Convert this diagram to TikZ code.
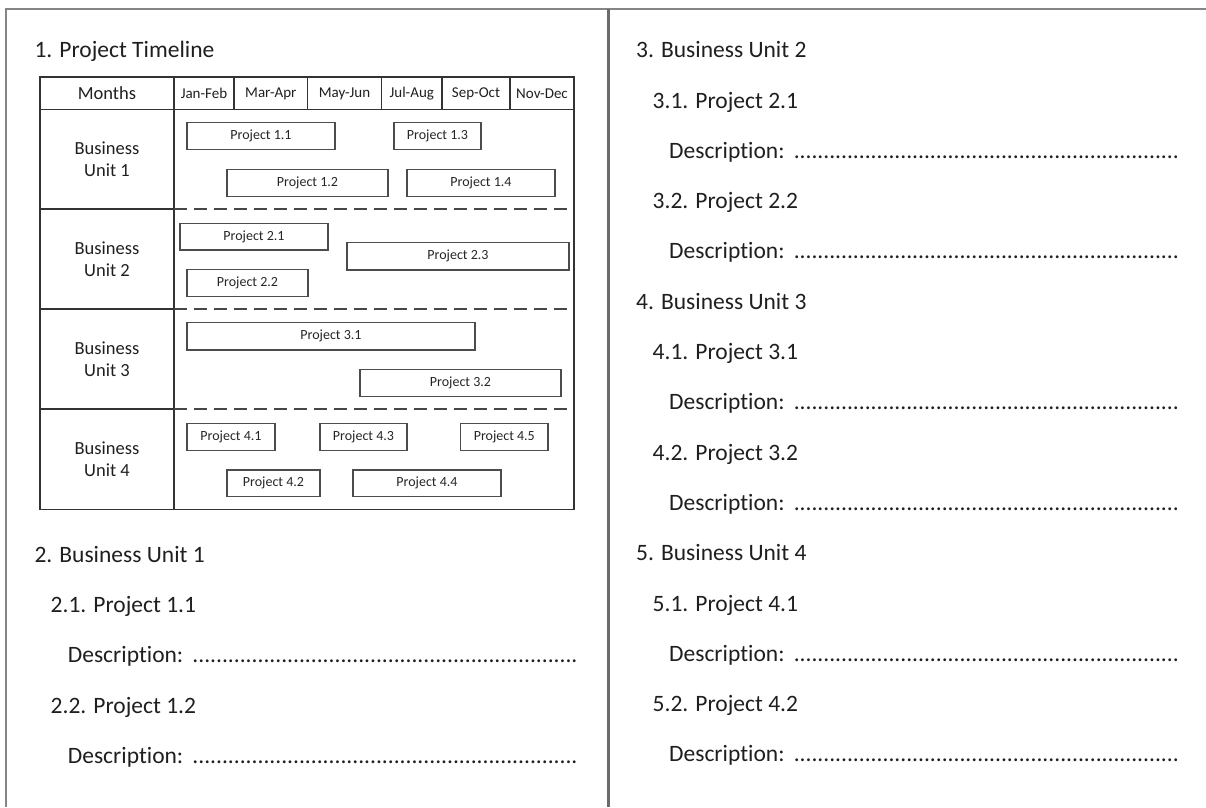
\documentclass[tikz,border=0pt]{standalone}
\usepackage{fontspec}
\setmainfont{Carlito}[Ligatures=NoCommon]
\begin{document}
\begin{tikzpicture}[x=1pt,y=-1pt,
  frame/.style={draw=black!48,line width=2pt},
  midframe/.style={draw=black!58,line width=2.2pt},
  grid/.style={draw=black!80,line width=1.4pt},
  rowsep/.style={draw=black!72,line width=2pt,dash pattern=on 13pt off 7pt},
  proj/.style={draw=black!70,line width=1.1pt,inner sep=0pt,text=black!85,
    font=\fontsize{14}{16}\selectfont},
  head/.style={anchor=base west,inner sep=0pt,text=black!88,
    font=\fontsize{23.5}{28}\selectfont},
  month/.style={inner sep=0pt,text=black!88,font=\fontsize{15}{17}\selectfont},
  unit/.style={inner sep=0pt,align=center,text=black!88,
    font=\fontsize{18.5}{22}\selectfont},
]
\useasboundingbox (0,0) rectangle (1206,807);

% page frame and column divider
\draw[frame] (1206,9) -- (5.7,9) -- (5.7,807);
\draw[midframe] (608.5,9) -- (608.5,807);

% timeline table
\newcommand{\rowA}{109.5}
\draw[grid] (40,77) rectangle (574,509.5);
\draw[grid] (40,\rowA) -- (574,\rowA);
\draw[grid] (174,77) -- (174,509.5);
\foreach \cx in {234,307.5,381.5,442,510}
  \draw[grid] (\cx,77) -- (\cx,\rowA);
\foreach \ry in {209,309,409}{
  \draw[grid] (40,\ry) -- (174,\ry);
  \draw[rowsep] (174,\ry) -- (574,\ry);
}

% header row
\node[unit] (months) at (107,93.5) {Months};
\node[month] (m1) at (204,93.5) {Jan-Feb};
\node[month] (m2) at (270.8,93.5) {Mar-Apr};
\node[month] (m3) at (344.5,93.5) {May-Jun};
\node[month] (m4) at (411.8,93.5) {Jul-Aug};
\node[month] (m5) at (476,93.5) {Sep-Oct};
\node[month] (m6) at (542,93.5) {Nov-Dec};

% business unit labels
\node[unit] (bu1) at (107,159.5) {Business\\Unit 1};
\node[unit] (bu2) at (107,259.5) {Business\\Unit 2};
\node[unit] (bu3) at (107,359.5) {Business\\Unit 3};
\node[unit] (bu4) at (107,459.5) {Business\\Unit 4};

% project bars: name, left, top, right, bottom, label
\newcommand{\projbox}[6]{%
  \node[proj,minimum width={(#4-#2)*1pt},minimum height={(#5-#3)*1pt}]
    (#1) at ({(#2+#4)/2},{(#3+#5)/2}) {#6};}
\projbox{p11}{187}{122.3}{335}{149.3}{Project 1.1}
\projbox{p13}{394}{122.3}{481}{149.3}{Project 1.3}
\projbox{p12}{227}{169.3}{388}{196.3}{Project 1.2}
\projbox{p14}{407}{169.3}{555}{196.3}{Project 1.4}
\projbox{p21}{180}{223.3}{328}{250}{Project 2.1}
\projbox{p23}{347}{242.7}{569}{270}{Project 2.3}
\projbox{p22}{187}{269.3}{308}{296.7}{Project 2.2}
\projbox{p31}{187}{322.7}{475}{350}{Project 3.1}
\projbox{p32}{360}{369.3}{561}{396.7}{Project 3.2}
\projbox{p41}{187}{423.3}{275}{450.3}{Project 4.1}
\projbox{p43}{320}{423.3}{407}{450.3}{Project 4.3}
\projbox{p45}{460.6}{423.3}{548}{450.3}{Project 4.5}
\projbox{p42}{227}{470}{320}{496.7}{Project 4.2}
\projbox{p44}{353}{470}{501}{496.7}{Project 4.4}

% outline text
\newcommand{\desc}{\hbox to 516pt{Description:\kern4pt\leaders\hbox{.}\hfill}}
\node[head] (h1)  at (34.3,57.7)  {1. Project Timeline};
\node[head] (h2)  at (34.3,562.3) {2. Business Unit 1};
\node[head] (h21) at (50.5,612.6) {2.1. Project 1.1};
\node[head] (d21) at (67.7,662.9) {\desc};
\node[head] (h22) at (50.5,713.2) {2.2. Project 1.2};
\node[head] (d22) at (67.7,763.5) {\desc};

\node[head] (h3)  at (636,57.7)   {3. Business Unit 2};
\node[head] (h31) at (652.5,108)  {3.1. Project 2.1};
\node[head] (d31) at (669,158.3)  {\desc};
\node[head] (h32) at (652.5,208.6) {3.2. Project 2.2};
\node[head] (d32) at (669,258.9)  {\desc};
\node[head] (h4)  at (636,309.2)  {4. Business Unit 3};
\node[head] (h41) at (652.5,359.5) {4.1. Project 3.1};
\node[head] (d41) at (669,409.8)  {\desc};
\node[head] (h42) at (652.5,460.1) {4.2. Project 3.2};
\node[head] (d42) at (669,510.4)  {\desc};
\node[head] (h5)  at (636,560.7)  {5. Business Unit 4};
\node[head] (h51) at (652.5,611)  {5.1. Project 4.1};
\node[head] (d51) at (669,661.3)  {\desc};
\node[head] (h52) at (652.5,711.6) {5.2. Project 4.2};
\node[head] (d52) at (669,761.9)  {\desc};
\end{tikzpicture}
\end{document}
